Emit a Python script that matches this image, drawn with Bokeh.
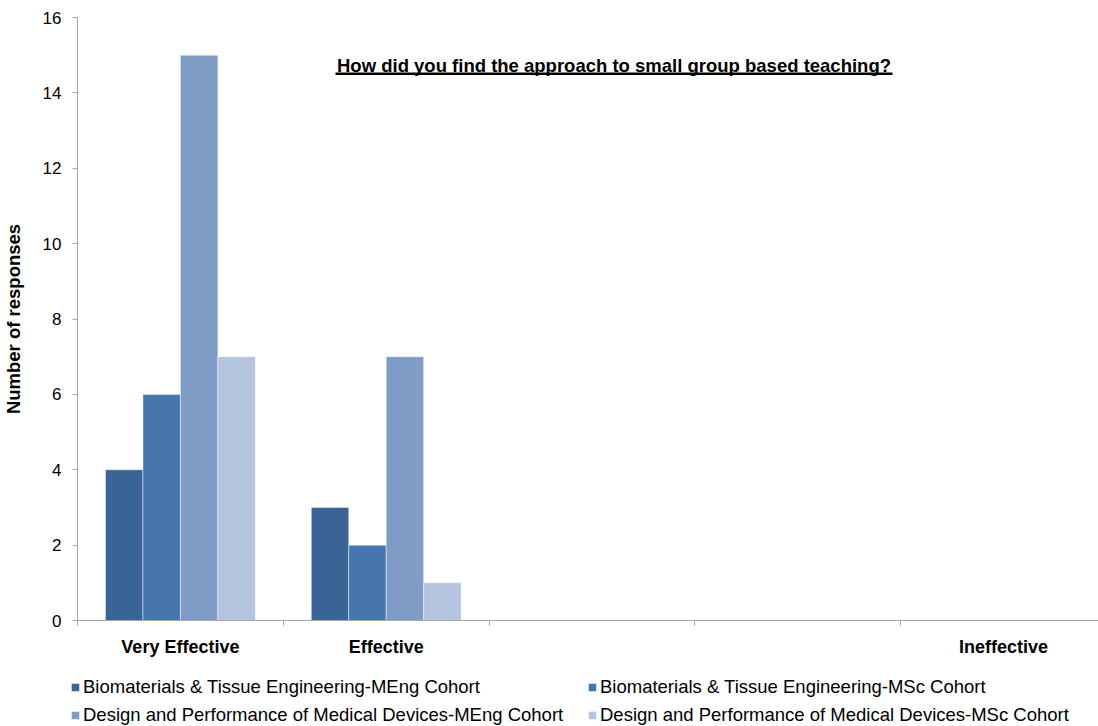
from bokeh.plotting import figure
from bokeh.models import (ColumnDataSource, FixedTicker, Legend, LegendItem, Label,
                          BoxAnnotation, LinearAxis)
from bokeh.transform import dodge
from bokeh.embed import file_html
from bokeh.resources import INLINE

# ---- data ----
categories = ["Very Effective", "Effective", "", "", "Ineffective"]
series_names = [
    "Biomaterials & Tissue Engineering-MEng Cohort",
    "Biomaterials & Tissue Engineering-MSc Cohort",
    "Design and Performance of Medical Devices-MEng Cohort",
    "Design and Performance of Medical Devices-MSc Cohort",
]
bte_meng = [4, 3, 0, 0, 0]
bte_msc = [6, 2, 0, 0, 0]
dpmd_meng = [15, 7, 0, 0, 0]
dpmd_msc = [7, 1, 0, 0, 0]
y_ticks = [0, 2, 4, 6, 8, 10, 12, 14, 16]
title_text = "How did you find the approach to small group based teaching?"
y_title = "Number of responses"

colors = ["#3B6496", "#4776AF", "#7F9CC7", "#B4C4DF"]
FONT = "Liberation Sans"

# ---- layout (pixels) ----
W, H = 1098, 726
ax_left, ax_top, ax_bottom = 77, 17, 620      # plot-area edges on the canvas
cat_px = 205.8                                # width of one category
y_max = 16
px_per_unit = (ax_bottom - ax_top) / y_max
x_start = -ax_left / cat_px
x_end = (W - ax_left) / cat_px
y_start = -(H - ax_bottom) / px_per_unit
y_end = y_max + ax_top / px_per_unit

centers = [i + 0.5 for i in range(len(categories))]
src = ColumnDataSource(dict(xc=centers, s0=bte_meng, s1=bte_msc, s2=dpmd_meng, s3=dpmd_msc))

p = figure(width=W, height=H, x_range=(x_start, x_end), y_range=(y_start, y_end),
           output_backend="svg", toolbar_location=None,
           min_border=0, x_axis_location=None, y_axis_location=None)
p.outline_line_color = None
p.xgrid.visible = False
p.ygrid.visible = False
p.background_fill_color = "white"
p.border_fill_color = "white"

bar_w = 0.182
renderers = []
for k in range(4):
    off = (k - 1.5) * bar_w
    r = p.vbar(x=dodge("xc", off, range=p.x_range), top="s%d" % k, width=bar_w, source=src,
               fill_color=colors[k], line_color="white", line_alpha=0.45, line_width=1)
    renderers.append(r)

# axes (pinned at 0 so the whole canvas is the frame)
yaxis = LinearAxis(ticker=FixedTicker(ticks=y_ticks, minor_ticks=[]),
                   fixed_location=0, bounds=(0, y_max))
yaxis.axis_line_color = "#A6A6A6"
yaxis.major_tick_line_color = "#A6A6A6"
yaxis.major_tick_out = 5
yaxis.major_tick_in = 0
yaxis.minor_tick_line_color = None
yaxis.major_label_text_font = FONT
yaxis.major_label_text_font_size = "17px"
yaxis.major_label_text_color = "black"
yaxis.major_label_standoff = 11
yaxis.axis_label = y_title
yaxis.axis_label_text_font = FONT
yaxis.axis_label_text_font_size = "18.5px"
yaxis.axis_label_text_font_style = "bold"
yaxis.axis_label_text_color = "black"
yaxis.axis_label_standoff = 16
p.add_layout(yaxis, "left")

xaxis = LinearAxis(ticker=FixedTicker(ticks=centers, minor_ticks=list(range(len(categories) + 1))),
                   fixed_location=0, bounds=(0, x_end))
xaxis.major_label_overrides = {c: lab for c, lab in zip(centers, categories)}
xaxis.axis_line_color = "#A6A6A6"
xaxis.major_tick_line_color = None
xaxis.major_tick_out = 0
xaxis.major_tick_in = 0
xaxis.minor_tick_line_color = "#A6A6A6"
xaxis.minor_tick_out = 5
xaxis.minor_tick_in = 0
xaxis.major_label_text_font = FONT
xaxis.major_label_text_font_size = "18px"
xaxis.major_label_text_font_style = "bold"
xaxis.major_label_text_color = "black"
xaxis.major_label_standoff = 11
p.add_layout(xaxis, "below")

# title (underlined)
p.add_layout(Label(x=613.5, y=H - 64.7, x_units="screen", y_units="screen", text=title_text,
                   text_font=FONT, text_font_size="18.5px", text_font_style="bold",
                   text_align="center", text_baseline="alphabetic", text_color="black"))
p.add_layout(BoxAnnotation(left=335, right=892, top=H - 72, bottom=H - 74.5,
                           left_units="screen", right_units="screen",
                           top_units="screen", bottom_units="screen",
                           fill_color="black", fill_alpha=1, line_color=None))

# legend: two columns at the bottom
def make_legend(idx, x):
    items = [LegendItem(label=series_names[i], renderers=[renderers[i]]) for i in idx]
    return Legend(items=items, location=(x, 0), orientation="vertical",
                  glyph_width=10, glyph_height=10, label_standoff=3, label_height=21,
                  spacing=6, padding=0, margin=0,
                  label_text_font=FONT, label_text_font_size="18.5px", label_text_color="black",
                  background_fill_alpha=0, border_line_alpha=0)

p.add_layout(make_legend([0, 2], 70), "center")
p.add_layout(make_legend([1, 3], 587), "center")

open("out.html", "w").write(file_html(p, INLINE))
